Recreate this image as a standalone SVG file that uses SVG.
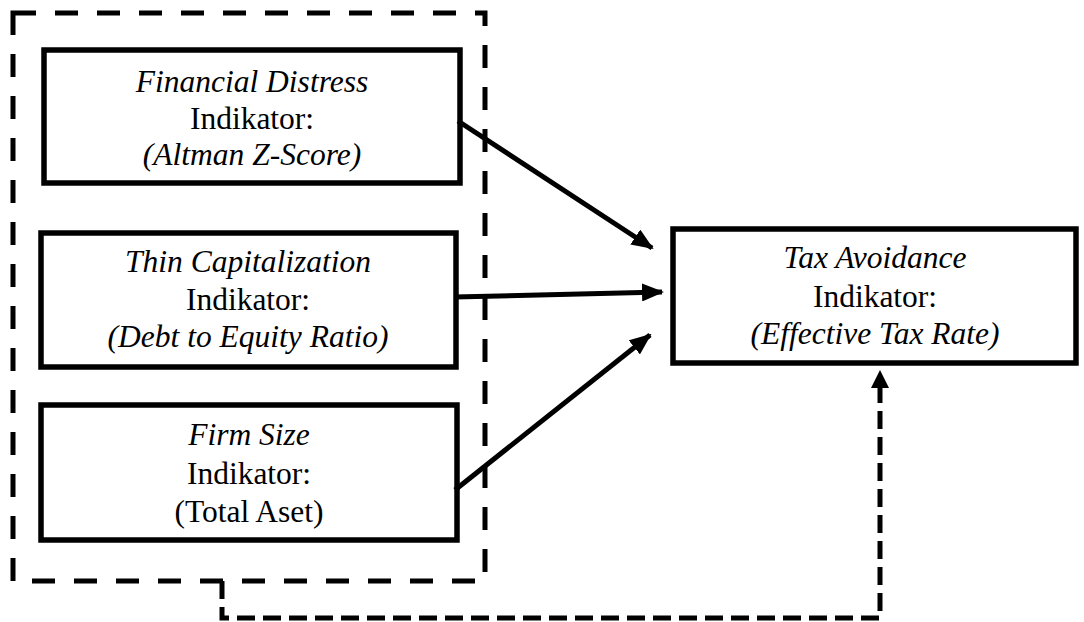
<svg xmlns="http://www.w3.org/2000/svg" width="1084" height="622" viewBox="0 0 1084 622">
<defs>
<style>
.box{fill:#fff;stroke:#000;stroke-width:5.5}
.t{font-family:'Liberation Serif','Times New Roman',Times,Tinos,'Noto Serif','DejaVu Serif',serif;font-size:31.5px;fill:#000;text-anchor:middle}
.i{font-style:italic}
.dash{fill:none;stroke:#000;stroke-width:5;stroke-dasharray:23 19}
.arr{fill:none;stroke:#000;stroke-width:5;marker-end:url(#ah)}
</style>
<marker id="ah" markerWidth="22" markerHeight="18" refX="20" refY="9" orient="auto" markerUnits="userSpaceOnUse">
<path d="M0,0 L22,9 L0,18 Z" fill="#000"/>
</marker>
</defs>
<rect width="1084" height="622" fill="#fff"/>
<g id="group-box">
<rect x="13" y="13" width="472" height="568" class="dash"/>
</g>
<g id="financial-distress">
<rect x="44" y="50" width="416" height="133" class="box"/>
<text class="t i" x="252" y="92">Financial Distress</text>
<text class="t" x="252" y="129">Indikator:</text>
<text class="t i" x="252" y="165">(Altman Z-Score)</text>
</g>
<g id="thin-capitalization">
<rect x="41" y="233" width="415" height="134" class="box"/>
<text class="t i" x="248" y="272">Thin Capitalization</text>
<text class="t" x="248" y="310">Indikator:</text>
<text class="t i" x="248" y="347">(Debt to Equity Ratio)</text>
</g>
<g id="firm-size">
<rect x="41" y="405" width="416" height="135" class="box"/>
<text class="t i" x="249" y="445">Firm Size</text>
<text class="t" x="249" y="484">Indikator:</text>
<text class="t" x="249" y="522">(Total Aset)</text>
</g>
<g id="tax-avoidance">
<rect x="673" y="229" width="403" height="134" class="box"/>
<text class="t i" x="875" y="268">Tax Avoidance</text>
<text class="t" x="875" y="307">Indikator:</text>
<text class="t i" x="875" y="344">(Effective Tax Rate)</text>
</g>
<g id="connectors">
<line x1="458" y1="121" x2="652" y2="248" class="arr"/>
<line x1="454" y1="297" x2="662" y2="292" class="arr"/>
<line x1="455" y1="490" x2="650" y2="335" class="arr"/>
<path d="M222,581 L222,618 L880,618 L880,386" fill="none" stroke="#000" stroke-width="5" stroke-dasharray="18 8"/>
<path d="M880,370 L889,388 L871,388 Z" fill="#000"/>
</g>
</svg>
